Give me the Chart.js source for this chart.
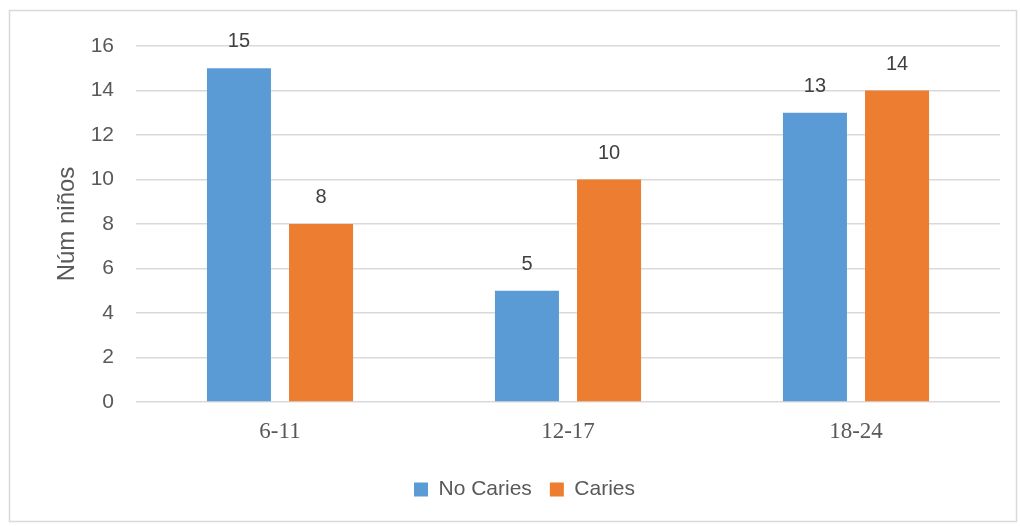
<!DOCTYPE html>
<html>
<head>
<meta charset="utf-8">
<script src="https://cdn.jsdelivr.net/npm/chart.js@4"></script>
<style>
  html, body { margin: 0; padding: 0; background: #fff; }
  #wrap { width: 1020px; height: 526px; }
</style>
</head>
<body>
<div id="wrap"><canvas id="cariesChart" width="1020" height="526"></canvas></div>
<script>
const ageGroups = ['6-11', '12-17', '18-24'];
const noCaries = [15, 5, 13];
const caries = [8, 10, 14];
const seriesNames = ['No Caries', 'Caries'];
const axisTitle = 'Núm niños';

// dibuja el valor encima de cada barra
const barValueLabels = {
    id: 'barValueLabels',
    afterDatasetsDraw(chart) {
        const ctx = chart.ctx;
        ctx.save();
        ctx.font = '20px "Liberation Sans", Arial, sans-serif';
        ctx.fillStyle = '#404040';
        ctx.textAlign = 'center';
        ctx.textBaseline = 'alphabetic';
        chart.data.datasets.forEach((ds, i) => {
            chart.getDatasetMeta(i).data.forEach((bar, j) => {
                ctx.fillText(ds.data[j], bar.x, bar.y - 21);
            });
        });
        ctx.restore();
    }
};

const chartFrame = {
    id: 'chartFrame',
    beforeDraw(chart) {
        const ctx = chart.ctx;
        ctx.save();
        ctx.fillStyle = '#ffffff';
        ctx.fillRect(0, 0, chart.width, chart.height);
        ctx.strokeStyle = '#d9d9d9';
        ctx.lineWidth = 1.5;
        ctx.strokeRect(9.5, 10.5, 1007, 511);
        ctx.restore();
    }
};

const cariesCtx = document.getElementById('cariesChart');

new Chart(cariesCtx, {
    type: 'bar',
    data: {
        labels: ageGroups,
        datasets: [{
            label: seriesNames[0],
            data: noCaries,
            backgroundColor: '#5B9BD5',
            borderWidth: 0,
            categoryPercentage: 0.57,
            barPercentage: 0.78
        }, {
            label: seriesNames[1],
            data: caries,
            backgroundColor: '#ED7D31',
            borderWidth: 0,
            categoryPercentage: 0.57,
            barPercentage: 0.78
        }]
    },
    options: {
        responsive: false,
        animation: false,
        layout: {
            padding: { left: 49, top: 46, right: 20, bottom: 16 }
        },
        scales: {
            x: {
                grid: { display: false },
                border: { display: false },
                ticks: {
                    color: '#595959',
                    padding: 8,
                    font: { family: '"Liberation Serif", "Times New Roman", serif', size: 23 }
                },
                afterFit(scale) { scale.height = 59; }
            },
            y: {
                min: 0,
                max: 16,
                grid: { color: '#d9d9d9', lineWidth: 1.5, drawTicks: false },
                border: { display: false },
                ticks: {
                    stepSize: 2,
                    color: '#595959',
                    padding: 22,
                    font: { family: '"Liberation Sans", Arial, sans-serif', size: 21 }
                },
                title: {
                    display: true,
                    text: axisTitle,
                    color: '#595959',
                    font: { family: '"Liberation Sans", Arial, sans-serif', size: 24 }
                },
                afterFit(scale) { scale.width = 87; }
            }
        },
        plugins: {
            legend: {
                position: 'bottom',
                onClick: null,
                labels: {
                    boxWidth: 14,
                    boxHeight: 14,
                    padding: 18,
                    color: '#595959',
                    font: { family: '"Liberation Sans", Arial, sans-serif', size: 21 }
                }
            },
            tooltip: { enabled: false }
        }
    },
    plugins: [chartFrame, barValueLabels]
});
</script>
</body>
</html>
